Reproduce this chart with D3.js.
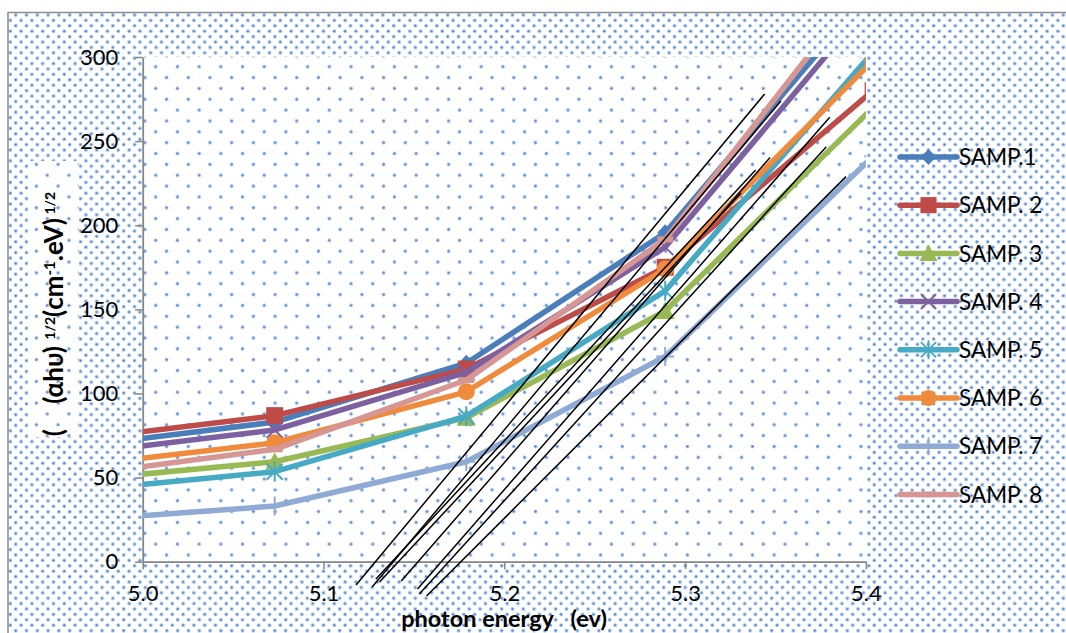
<!DOCTYPE html>
<html>
<head>
<meta charset="utf-8">
<script src="https://cdn.jsdelivr.net/npm/d3@7"></script>
<style>
  html, body { margin: 0; padding: 0; background: #ffffff; }
  svg { display: block; font-family: Lato, "Open Sans", sans-serif; }
</style>
</head>
<body>
<svg id="chart" width="1066" height="633"></svg>
<script>
// Photon energy (eV) of the measured points
const energy = [4.972, 5.073, 5.179, 5.289, 5.404];

// (αhυ)^1/2 values for each sample
const samp1 = [69.6, 83.0, 118.0, 195.5, 341.0];
const samp2 = [73.7, 86.8, 114.5, 175.0, 280.0];
const samp3 = [49.3, 59.4, 85.5, 149.0, 270.0];
const samp4 = [65.2, 78.3, 112.5, 187.0, 334.0];
const samp5 = [43.1, 53.5, 86.5, 161.0, 303.0];
const samp6 = [58.0, 70.7, 101.0, 174.0, 298.0];
const samp7 = [25.1, 33.1, 59.4, 122.0, 241.0];
const samp8 = [52.6, 66.8, 108.0, 191.6, 350.0];

const seriesNames = ["SAMP.1", "SAMP. 2", "SAMP. 3", "SAMP. 4", "SAMP. 5", "SAMP. 6", "SAMP. 7", "SAMP. 8"];
const seriesValues = [samp1, samp2, samp3, samp4, samp5, samp6, samp7, samp8];

const xTicks = [5.0, 5.1, 5.2, 5.3, 5.4];
const yTicks = [0, 50, 100, 150, 200, 250, 300];

// Straight-line extrapolations of the absorption edges (start and end points)
const tangentE0 = [5.118, 5.127, 5.129, 5.131, 5.143, 5.152, 5.153, 5.157];
const tangentV0 = [-13.9, -14.9, -10.3, -12.1, -11.5, -16.2, -19.2, -20.4];
const tangentE1 = [5.344, 5.353, 5.339, 5.331, 5.347, 5.380, 5.378, 5.389];
const tangentV1 = [278.0, 273.9, 232.8, 219.2, 240.3, 264.2, 246.5, 228.9];

// Styling
const colors = ["#4a7ebb", "#be4b48", "#98b954", "#7d60a0", "#46aac5", "#f08b3c", "#8faad4", "#d69694"];
const markers = ["diamond", "square", "triangle", "cross", "star", "circle", "plus", "dash"];

const svg = d3.select("#chart");
const defs = svg.append("defs");

// Dotted fills: dense one for the chart area, sparse one for the plot area
function dotPattern(id, size, ox, oy) {
  const p = defs.append("pattern")
    .attr("id", id)
    .attr("patternUnits", "userSpaceOnUse")
    .attr("width", size).attr("height", size)
    .attr("x", ox).attr("y", oy);
  p.append("rect").attr("width", size).attr("height", size).attr("fill", "#ffffff");
  [[size / 4, size / 4], [size * 3 / 4, size * 3 / 4]].forEach(([cx, cy]) => {
    p.append("circle").attr("cx", cx).attr("cy", cy).attr("r", 1.9).attr("fill", "#abc5e8");
    p.append("circle").attr("cx", cx).attr("cy", cy).attr("r", 1.1).attr("fill", "#4a80c9");
  });
}
dotPattern("denseDots", 10.8, 2.2, 1.5);
dotPattern("sparseDots", 21.7, 20.1, 17.9);

// Chart area with grey frame
svg.append("rect")
  .attr("x", 8).attr("y", 12.5)
  .attr("width", 1100).attr("height", 700)
  .attr("fill", "url(#denseDots)")
  .attr("stroke", "#8c8c8c").attr("stroke-width", 1.5);

// Scales
const x = d3.scaleLinear().domain([5.0, 5.4]).range([142.7, 865.9]);
const y = d3.scaleLinear().domain([0, 300]).range([561.7, 57]);

// Plot area
svg.append("rect")
  .attr("x", x(5.0)).attr("y", y(300))
  .attr("width", x(5.4) - x(5.0)).attr("height", y(0) - y(300))
  .attr("fill", "url(#sparseDots)");

defs.append("clipPath").attr("id", "plotClip")
  .append("rect")
  .attr("x", x(5.0)).attr("y", y(300))
  .attr("width", x(5.4) - x(5.0)).attr("height", y(0) - y(300));

// Axis-title backdrop
svg.append("rect")
  .attr("x", 28).attr("y", 161).attr("width", 51).attr("height", 276)
  .attr("fill", "url(#sparseDots)");

// Axes
const axisColor = "#868686";
const yAxis = svg.append("g")
  .attr("transform", `translate(${x(5.0)},0)`)
  .call(d3.axisLeft(y).tickValues(yTicks).tickSize(7.5).tickSizeOuter(0).tickPadding(17));
const xAxis = svg.append("g")
  .attr("transform", `translate(0,${y(0)})`)
  .call(d3.axisBottom(x).tickValues(xTicks).tickSize(7.5).tickSizeOuter(0).tickFormat(d3.format(".1f")));

[yAxis, xAxis].forEach(g => {
  g.select(".domain").attr("stroke", axisColor).attr("stroke-width", 1.8);
  g.selectAll(".tick line").attr("stroke", axisColor).attr("stroke-width", 1.5);
  g.selectAll(".tick text")
    .attr("fill", "#000")
    .style("font-size", "22px")
    .style("font-family", "Lato, sans-serif");
});
xAxis.selectAll(".tick text").attr("dy", null).attr("y", 39);

// Marker drawing
function drawMarker(g, type, cx, cy, color, scale) {
  const s = scale || 1;
  const m = g.append("g").attr("transform", `translate(${cx},${cy}) scale(${s})`);
  switch (type) {
    case "diamond":
      m.append("path").attr("d", "M0,-8.5L8,0L0,8.5L-8,0Z").attr("fill", color);
      break;
    case "square":
      m.append("rect").attr("x", -8.5).attr("y", -8.5).attr("width", 17).attr("height", 17).attr("fill", color);
      break;
    case "triangle":
      m.append("path").attr("d", "M0,-9.5L9.5,8L-9.5,8Z").attr("fill", color);
      break;
    case "cross":
      m.append("path").attr("d", "M-8,-8L8,8M-8,8L8,-8")
        .attr("stroke", color).attr("stroke-width", 2).attr("fill", "none");
      break;
    case "star":
      m.append("path").attr("d", "M-8,-8L8,8M-8,8L8,-8M0,-10L0,10")
        .attr("stroke", color).attr("stroke-width", 2).attr("fill", "none");
      break;
    case "circle":
      m.append("circle").attr("r", 8.5).attr("fill", color);
      break;
    case "plus":
      m.append("path").attr("d", "M0,-9.5L0,9.5M-9,0L9,0")
        .attr("stroke", color).attr("stroke-width", 2).attr("fill", "none");
      break;
    case "dash":
      m.append("rect").attr("x", -8).attr("y", -3).attr("width", 16).attr("height", 6).attr("fill", color);
      break;
  }
}

// Data series
const plot = svg.append("g").attr("clip-path", "url(#plotClip)");
const line = d3.line().x(d => x(d[0])).y(d => y(d[1]));

seriesValues.forEach((vals, i) => {
  const pts = energy.map((e, j) => [e, vals[j]]);
  const g = plot.append("g");
  g.append("path")
    .attr("d", line(pts))
    .attr("fill", "none")
    .attr("stroke", colors[i])
    .attr("stroke-width", 5.5)
    .attr("stroke-linejoin", "round")
    .attr("stroke-linecap", "round");
  pts.forEach(p => drawMarker(g, markers[i], x(p[0]), y(p[1]), colors[i], 1));
});

// Edge extrapolation lines (drawn over everything, not clipped)
const tangents = svg.append("g");
tangentE0.forEach((e0, i) => {
  tangents.append("line")
    .attr("x1", x(e0)).attr("y1", y(tangentV0[i]))
    .attr("x2", x(tangentE1[i])).attr("y2", y(tangentV1[i]))
    .attr("stroke", "#000").attr("stroke-width", 1.5);
});

// Legend
const legend = svg.append("g");
seriesNames.forEach((name, i) => {
  const cy = 157 + i * 48.2;
  const row = legend.append("g");
  row.append("line")
    .attr("x1", 900).attr("x2", 957).attr("y1", cy).attr("y2", cy)
    .attr("stroke", colors[i]).attr("stroke-width", 5.5)
    .attr("stroke-linecap", "round");
  drawMarker(row, markers[i], 928.5, cy, colors[i], 0.95);
  row.append("text")
    .attr("x", 959).attr("y", cy).attr("dy", "0.36em")
    .style("font-size", "22.5px")
    .attr("fill", "#000")
    .text(name);
});

// Axis titles
svg.append("text")
  .attr("x", 504).attr("y", 627)
  .attr("text-anchor", "middle")
  .attr("xml:space", "preserve")
  .style("white-space", "pre")
  .style("font-size", "23.5px")
  .style("font-weight", "bold")
  .text("photon energy   (ev)");

const yTitle = svg.append("text")
  .attr("transform", "translate(63,314) rotate(-90)")
  .attr("text-anchor", "middle")
  .attr("xml:space", "preserve")
  .style("white-space", "pre")
  .style("font-size", "26px")
  .style("font-weight", "bold");
yTitle.append("tspan").text("(    (αhυ) ");
yTitle.append("tspan").attr("baseline-shift", "55%").style("font-size", "14px").text("1/2");
yTitle.append("tspan").text("(cm");
yTitle.append("tspan").attr("baseline-shift", "55%").style("font-size", "15px").text("-1");
yTitle.append("tspan").text(".eV)");
yTitle.append("tspan").attr("baseline-shift", "55%").style("font-size", "14px").text(" 1/2");
</script>
</body>
</html>
